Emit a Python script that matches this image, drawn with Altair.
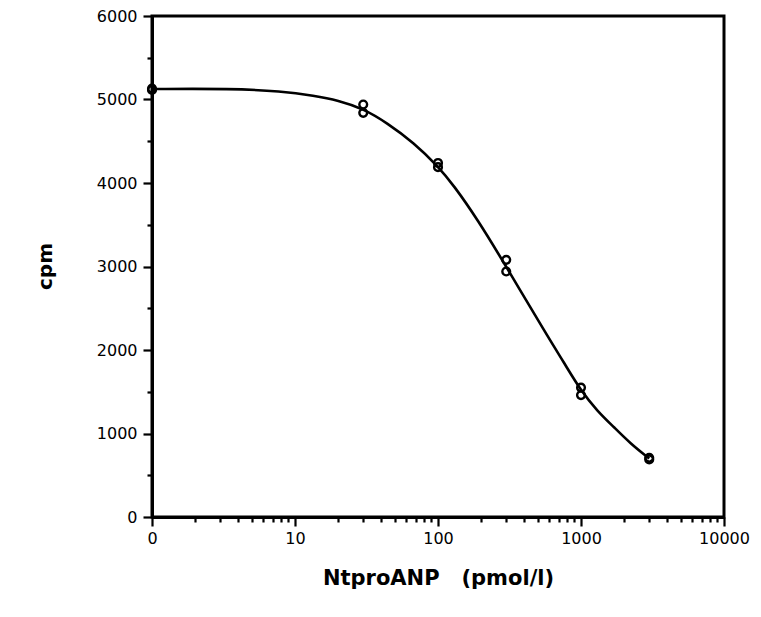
import altair as alt
import pandas as pd

# measured points (x = NtproANP pmol/l, y = cpm); "0" is drawn at x = 1 on the log axis
pt_x = [1, 1, 30, 30, 100, 100, 300, 300, 1000, 1000, 3000, 3000]
pt_y = [5130, 5115, 4940, 4840, 4240, 4190, 3080, 2940, 1550, 1460, 710, 690]

# fitted curve
cv_x = [1, 3.6, 8, 13.7, 20, 30, 44, 68, 100, 129, 188, 300, 580, 760, 1000, 1300, 1690, 2213, 3000]
cv_y = [5125, 5130, 5100, 5045, 4990, 4890, 4720, 4480, 4200, 3970, 3570, 3000, 2170, 1850, 1510, 1270, 1080, 880, 700]

x_ticks = [m * d for d in [1, 10, 100, 1000] for m in range(1, 10)] + [10000]
x_major = [1, 10, 100, 1000, 10000]
y_ticks = list(range(0, 6001, 500))

pts = pd.DataFrame({"x": pt_x, "y": pt_y})
cv = pd.DataFrame({"x": cv_x, "y": cv_y})

font = "DejaVu Sans"

is_major_x = " || ".join(f"datum.value == {v}" for v in x_major)

xscale = alt.Scale(type="log", domain=[1, 10000], nice=False)
yscale = alt.Scale(domain=[0, 6000], nice=False)

xaxis = alt.Axis(
    values=x_ticks,
    labelExpr=f"({is_major_x}) ? (datum.value == 1 ? '0' : format(datum.value, 'd')) : ''",
    tickSize={"condition": {"test": is_major_x, "value": 9}, "value": 5},
    tickWidth=2.2, tickColor="black", domainColor="black", domainWidth=3,
    grid=False, labelFont=font, labelFontSize=16, labelColor="black", labelPadding=4,
    labelFlush=False, labelOverlap=False,
    title="NtproANP\u00a0\u00a0\u00a0(pmol/l)", titleFont=font, titleFontSize=21, titleFontWeight="bold",
    titleColor="black", titleY=61, titleBaseline="middle",
)
yaxis = alt.Axis(
    values=y_ticks,
    labelExpr="datum.value % 1000 == 0 ? format(datum.value, 'd') : ''",
    tickSize={"condition": {"test": "datum.value % 1000 == 0", "value": 9}, "value": 5},
    tickWidth=2.2, tickColor="black", domainColor="black", domainWidth=3,
    grid=False, labelFont=font, labelFontSize=16, labelColor="black", labelPadding=6,
    labelOverlap=False,
    title="cpm", titleFont=font, titleFontSize=20, titleFontWeight="bold",
    titleColor="black", titleX=-107, titleY=250, titleAngle=270,
    titleAlign="center", titleBaseline="middle",
)

line = alt.Chart(cv).mark_line(interpolate="basis", color="black", strokeWidth=2.6).encode(
    x=alt.X("x:Q", scale=xscale, axis=xaxis),
    y=alt.Y("y:Q", scale=yscale, axis=yaxis),
)
points = alt.Chart(pts).mark_point(shape="circle", filled=False, color="black", opacity=1, size=60, strokeWidth=2.4).encode(
    x=alt.X("x:Q", scale=xscale),
    y=alt.Y("y:Q", scale=yscale),
)

chart = (line + points).properties(
    width=572, height=501,
    background="white",
    padding={"left": 144, "top": 8, "right": 27, "bottom": 90},
    autosize=alt.AutoSizeParams(type="none"),
).configure_view(stroke="black", strokeWidth=3)

chart.save("out.html", embed_options={"renderer": "svg", "actions": False})
